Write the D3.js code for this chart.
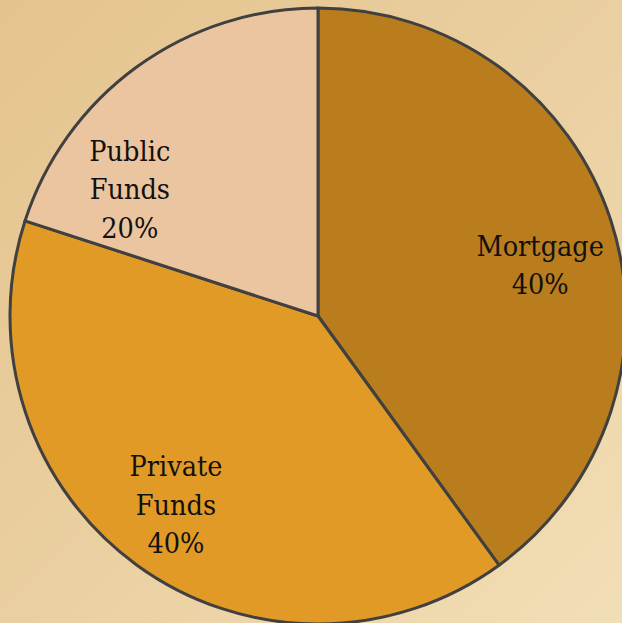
<!DOCTYPE html>
<html>
<head>
<meta charset="utf-8">
<script src="https://cdn.jsdelivr.net/npm/d3@7"></script>
<style>
  html, body { margin: 0; padding: 0; }
  svg { display: block; }
  .lbl { font-family: "DejaVu Serif Condensed", "DejaVu Serif", serif; font-stretch: condensed; }
</style>
</head>
<body>
<div id="chart-area"></div>
<script>
// Data
var categories = ["Mortgage", "Private Funds", "Public Funds"];
var shares = [40, 40, 20];
var labelLines = [["Mortgage", "40%"], ["Private", "Funds", "40%"], ["Public", "Funds", "20%"]];

var width = 622, height = 623;
var cx = 318, cy = 316, radius = 308;

var colour = d3.scaleOrdinal()
    .domain(categories)
    .range(["#B97D1E", "#E29A27", "#EBC5A0"]);

var svg = d3.select("#chart-area").append("svg")
    .attr("width", width)
    .attr("height", height);

// Background gradient
var defs = svg.append("defs");
var grad = defs.append("linearGradient")
    .attr("id", "bg")
    .attr("x1", "0%").attr("y1", "0%")
    .attr("x2", "100%").attr("y2", "100%");
grad.append("stop").attr("offset", "0%").attr("stop-color", "#E4C48E");
grad.append("stop").attr("offset", "50%").attr("stop-color", "#EACFA0");
grad.append("stop").attr("offset", "100%").attr("stop-color", "#F2DEB6");

svg.append("rect")
    .attr("width", width)
    .attr("height", height)
    .attr("fill", "url(#bg)");

var g = svg.append("g")
    .attr("transform", "translate(" + cx + "," + cy + ")");

var pie = d3.pie()
    .sort(null)
    .value(function(d) { return d; });

var arc = d3.arc()
    .innerRadius(0)
    .outerRadius(radius);

var arcs = pie(shares);

g.selectAll("path.slice")
    .data(arcs)
    .enter().append("path")
    .attr("class", "slice")
    .attr("d", arc)
    .attr("fill", function(d, i) { return colour(categories[i]); })
    .attr("stroke", "#404040")
    .attr("stroke-width", 3)
    .attr("stroke-linejoin", "round");

// Labels (angle nudge in degrees, radius)
var labelShift = [5, 1, -20];
var labelRadius = [228, 236, 227];
var fontSize = 28.5, lineH = 38.5;

arcs.forEach(function(d, i) {
    var a = (d.startAngle + d.endAngle) / 2 + labelShift[i] * Math.PI / 180;
    var lx = labelRadius[i] * Math.sin(a);
    var ly = -labelRadius[i] * Math.cos(a);
    var lines = labelLines[i];
    var text = g.append("text")
        .attr("class", "lbl")
        .attr("text-anchor", "middle")
        .style("font-size", fontSize + "px")
        .attr("fill", "#111");
    lines.forEach(function(t, j) {
        text.append("tspan")
            .attr("x", lx)
            .attr("y", ly - (lines.length - 1) * lineH / 2 + j * lineH + fontSize * 0.36)
            .text(t);
    });
});
</script>
</body>
</html>
